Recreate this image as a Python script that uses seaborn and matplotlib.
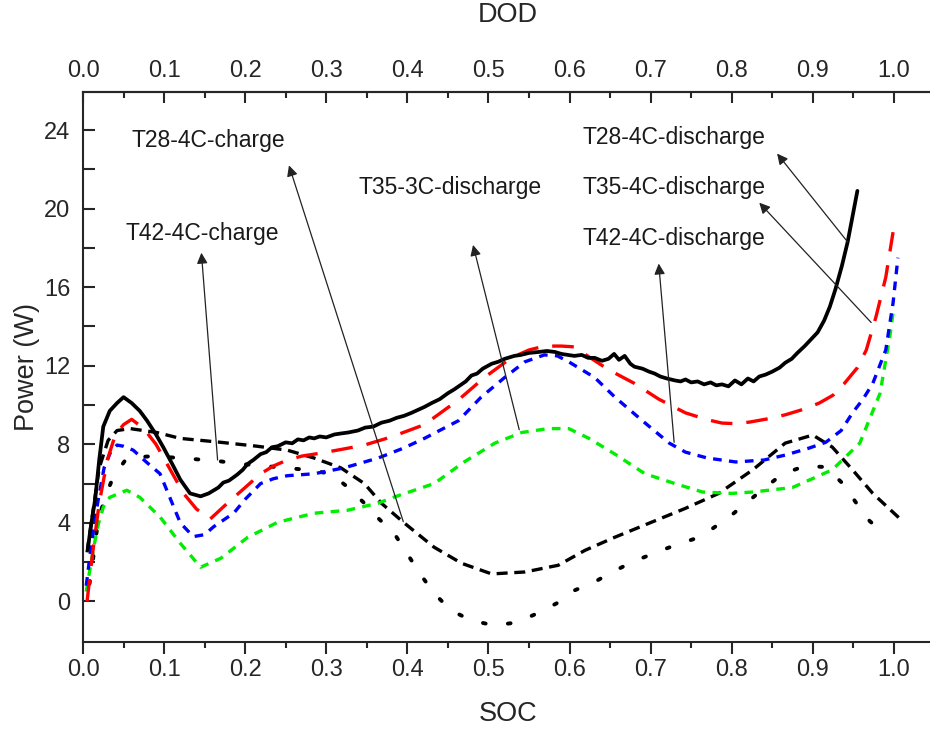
import matplotlib
matplotlib.use("Agg")
import matplotlib.pyplot as plt
import seaborn as sns
import pandas as pd
from matplotlib.ticker import FixedLocator, FormatStrFormatter

# ---------------- data ----------------
t28_dis_x = [0.006, 0.010, 0.015, 0.020, 0.025, 0.033, 0.042, 0.050, 0.060, 0.070, 0.079, 0.090, 0.099, 0.110,
             0.120, 0.132, 0.145, 0.155, 0.161, 0.167, 0.173, 0.180, 0.190, 0.197, 0.203, 0.210, 0.219, 0.226,
             0.233, 0.240, 0.250, 0.258, 0.265, 0.272, 0.279, 0.285, 0.292, 0.300, 0.310, 0.318, 0.327, 0.339,
             0.348, 0.358, 0.368, 0.378, 0.387, 0.396, 0.405, 0.413, 0.421, 0.430, 0.440, 0.450, 0.458, 0.465,
             0.472, 0.479, 0.486, 0.493, 0.504, 0.512, 0.520, 0.532, 0.540, 0.550, 0.562, 0.572, 0.582, 0.590,
             0.598, 0.606, 0.615, 0.623, 0.631, 0.640, 0.648, 0.655, 0.661, 0.668, 0.675, 0.680, 0.690, 0.698,
             0.705, 0.712, 0.720, 0.730, 0.737, 0.743, 0.750, 0.758, 0.766, 0.774, 0.781, 0.788, 0.796, 0.804,
             0.812, 0.820, 0.827, 0.834, 0.842, 0.850, 0.859, 0.866, 0.874, 0.881, 0.890, 0.898, 0.906, 0.914,
             0.921, 0.928, 0.936, 0.943, 0.949, 0.955]
t28_dis_y = [2.7, 3.9, 5.2, 7.2, 8.9, 9.7, 10.1, 10.4, 10.1, 9.7, 9.2, 8.5, 7.85, 7.0,
             6.2, 5.5, 5.35, 5.5, 5.65, 5.8, 6.05, 6.15, 6.45, 6.7, 7.0, 7.2, 7.5, 7.6,
             7.85, 7.9, 8.1, 8.05, 8.25, 8.2, 8.35, 8.3, 8.4, 8.35, 8.5, 8.55, 8.6, 8.7,
             8.85, 8.9, 9.1, 9.2, 9.35, 9.45, 9.6, 9.75, 9.9, 10.1, 10.3, 10.6, 10.8, 11.0,
             11.2, 11.5, 11.6, 11.85, 12.1, 12.2, 12.35, 12.5, 12.55, 12.65, 12.7, 12.75, 12.7, 12.6,
             12.55, 12.5, 12.55, 12.4, 12.4, 12.25, 12.35, 12.6, 12.3, 12.5, 12.1, 11.95, 11.85, 11.7,
             11.6, 11.45, 11.35, 11.25, 11.2, 11.3, 11.15, 11.2, 11.05, 11.15, 11.0, 11.05, 10.95, 11.25,
             11.05, 11.35, 11.2, 11.45, 11.55, 11.7, 11.9, 12.15, 12.35, 12.65, 13.0, 13.35, 13.7, 14.3,
             15.0, 15.9, 17.1, 18.3, 19.6, 20.9]

t35_dis_x = [0.005, 0.012, 0.020, 0.030, 0.040, 0.050, 0.060, 0.075, 0.090, 0.105, 0.124, 0.140, 0.157, 0.178,
             0.200, 0.219, 0.235, 0.252, 0.270, 0.293, 0.320, 0.347, 0.380, 0.421, 0.463, 0.495, 0.528, 0.550,
             0.569, 0.590, 0.606, 0.624, 0.648, 0.680, 0.710, 0.743, 0.770, 0.788, 0.805, 0.822, 0.845, 0.866,
             0.890, 0.908, 0.925, 0.939, 0.955, 0.966, 0.978, 0.990, 0.999]
t35_dis_y = [0.0, 2.5, 5.0, 7.2, 8.5, 9.0, 9.27, 8.8, 8.0, 6.9, 5.5, 4.7, 4.2, 5.0,
             5.8, 6.5, 6.9, 7.2, 7.4, 7.55, 7.75, 7.96, 8.37, 9.0, 10.26, 11.4, 12.4, 12.8,
             13.0, 13.0, 12.96, 12.45, 11.8, 11.1, 10.3, 9.6, 9.25, 9.08, 9.05, 9.13, 9.3, 9.5,
             9.8, 10.1, 10.5, 11.1, 11.9, 12.8, 14.5, 16.5, 18.8]

t42_dis_x = [0.004, 0.010, 0.018, 0.026, 0.034, 0.042, 0.050, 0.062, 0.078, 0.095, 0.108, 0.120, 0.136, 0.150,
             0.161, 0.186, 0.200, 0.219, 0.235, 0.252, 0.285, 0.322, 0.364, 0.395, 0.421, 0.463, 0.491, 0.520,
             0.545, 0.569, 0.585, 0.599, 0.631, 0.656, 0.689, 0.723, 0.743, 0.770, 0.805, 0.840, 0.866, 0.895,
             0.916, 0.935, 0.949, 0.962, 0.974, 0.990, 0.999, 1.005]
t42_dis_y = [0.8, 2.8, 5.0, 6.8, 7.6, 7.96, 7.9, 7.7, 7.1, 6.5, 5.2, 4.0, 3.3, 3.4,
             3.8, 4.5, 5.2, 6.0, 6.25, 6.4, 6.5, 6.8, 7.3, 7.8, 8.3, 9.2, 10.4, 11.4,
             12.2, 12.55, 12.5, 12.2, 11.4, 10.4, 9.23, 8.06, 7.6, 7.3, 7.1, 7.2, 7.45, 7.8,
             8.1, 8.7, 9.6, 10.3, 11.1, 12.8, 15.2, 17.5]

t35_3c_x = [0.004, 0.010, 0.018, 0.025, 0.033, 0.054, 0.070, 0.095, 0.120, 0.145, 0.170, 0.203, 0.240, 0.285,
            0.326, 0.364, 0.380, 0.433, 0.470, 0.508, 0.541, 0.574, 0.599, 0.624, 0.656, 0.693, 0.730, 0.764,
            0.800, 0.826, 0.875, 0.924, 0.958, 0.983, 0.995, 0.999]
t35_3c_y = [0.5, 2.0, 3.8, 4.8, 5.3, 5.66, 5.3, 4.3, 2.96, 1.74, 2.2, 3.26, 4.03, 4.49,
            4.64, 5.0, 5.26, 6.0, 7.1, 8.06, 8.6, 8.8, 8.8, 8.3, 7.5, 6.5, 6.0, 5.57,
            5.5, 5.57, 5.8, 6.7, 8.06, 10.6, 13.5, 14.7]

t28_ch_x = [0.005, 0.012, 0.020, 0.031, 0.042, 0.058, 0.091, 0.120, 0.170, 0.215, 0.252, 0.285, 0.318, 0.347,
            0.368, 0.396, 0.433, 0.467, 0.504, 0.545, 0.586, 0.619, 0.656, 0.698, 0.743, 0.784, 0.826, 0.866,
            0.900, 0.924, 0.949, 0.974, 1.007]
t28_ch_y = [2.5, 4.5, 6.8, 8.2, 8.7, 8.8, 8.6, 8.3, 8.1, 7.9, 7.7, 7.3, 6.8, 6.0,
            5.0, 4.0, 2.76, 1.94, 1.4, 1.5, 1.84, 2.6, 3.27, 3.98, 4.74, 5.5, 6.7, 8.06,
            8.47, 7.86, 6.7, 5.5, 4.23]

t42_ch_x = [0.008, 0.012, 0.015, 0.020, 0.028, 0.037, 0.054, 0.087, 0.139, 0.166, 0.194, 0.223, 0.248, 0.277,
            0.306, 0.327, 0.347, 0.365, 0.384, 0.401, 0.417, 0.433, 0.454, 0.479, 0.507, 0.535, 0.560, 0.584,
            0.606, 0.630, 0.652, 0.677, 0.704, 0.730, 0.755, 0.776, 0.797, 0.819, 0.840, 0.863, 0.891, 0.916,
            0.937, 0.953, 0.970, 0.990]
t42_ch_y = [0.9, 2.0, 3.1, 4.3, 5.4, 6.3, 7.3, 7.4, 7.24, 7.15, 7.0, 6.9, 6.8, 6.7,
            6.5, 5.8, 5.0, 4.2, 3.45, 2.35, 1.33, 0.41, -0.46, -0.97, -1.22, -1.07, -0.61, -0.1,
            0.56, 0.97, 1.48, 2.0, 2.45, 2.86, 3.2, 3.7, 4.3, 5.05, 5.76, 6.5, 6.9, 6.84,
            6.0, 5.05, 4.1, 3.36]

# tick labels
soc_ticks = [0.0, 0.1, 0.2, 0.3, 0.4, 0.5, 0.6, 0.7, 0.8, 0.9, 1.0]
dod_ticks = [0.0, 0.1, 0.2, 0.3, 0.4, 0.5, 0.6, 0.7, 0.8, 0.9, 1.0]
power_ticks = [0, 4, 8, 12, 16, 20, 24]

# annotation labels: text, text position, arrow head, arrow tail on curve
ann_labels = ["T28-4C-charge", "T42-4C-charge", "T35-3C-discharge",
              "T28-4C-discharge", "T35-4C-discharge", "T42-4C-discharge"]
ann_text_xy = [(0.155, 23.45), (0.147, 18.75), (0.453, 21.05),
               (0.729, 23.6), (0.729, 21.05), (0.729, 18.5)]
ann_head_xy = [(0.254, 22.2), (0.146, 17.75), (0.481, 18.15),
               (0.856, 22.8), (0.834, 20.3), (0.710, 17.2)]
ann_tail_xy = [(0.395, 4.06), (0.166, 7.2), (0.538, 8.74),
               (0.943, 18.3), (0.972, 14.2), (0.729, 8.1)]

# ---------------- style ----------------
sns.set_style("ticks")
plt.rcParams['font.family'] = ['Liberation Sans', 'DejaVu Sans']
plt.rcParams['axes.linewidth'] = 1.5

fig = plt.figure(figsize=(9.3, 7.29), dpi=100)
ax = fig.add_axes([83 / 930, 1 - 641.7 / 729, 1 - 83 / 930 + 0.003, (641.7 - 91.7) / 729])

series = [
    (t28_ch_x, t28_ch_y, dict(color="black", lw=2.4, linestyle=(0, (3.3, 2.0)))),
    (t42_ch_x, t42_ch_y, dict(color="black", lw=2.8, linestyle=(0, (0.7, 5.8)), dash_capstyle="round")),
    (t35_3c_x, t35_3c_y, dict(color="#00ee00", lw=2.4, linestyle=(0, (2.6, 2.2)))),
    (t42_dis_x, t42_dis_y, dict(color="#0000ff", lw=2.4, linestyle=(0, (2.6, 2.2)))),
    (t35_dis_x, t35_dis_y, dict(color="#ff0000", lw=2.4, linestyle=(0, (6.5, 4.2)))),
    (t28_dis_x, t28_dis_y, dict(color="black", lw=2.7, linestyle="-")),
]
for xs, ys, kw in series:
    df = pd.DataFrame({"SOC": xs, "Power": ys})
    sns.lineplot(data=df, x="SOC", y="Power", ax=ax, sort=False, estimator=None, **kw)

for lab, txy, hxy, sxy in zip(ann_labels, ann_text_xy, ann_head_xy, ann_tail_xy):
    ax.annotate("", xy=hxy, xytext=sxy,
                arrowprops=dict(arrowstyle="-|>", color="#222222", lw=0.9,
                                mutation_scale=16, shrinkA=0, shrinkB=0))
    ax.text(txy[0], txy[1], lab, ha="center", va="center", fontsize=16.5, color="#1a1a1a")

ax.set_xlim(0, 1.048)
ax.set_ylim(-2.05, 25.95)
ax.xaxis.set_major_locator(FixedLocator(soc_ticks))
ax.xaxis.set_minor_locator(FixedLocator([t + 0.05 for t in soc_ticks]))
ax.yaxis.set_major_locator(FixedLocator(power_ticks))
ax.yaxis.set_minor_locator(FixedLocator([t + 2 for t in power_ticks[:-1]]))
ax.xaxis.set_major_formatter(FormatStrFormatter("%.1f"))

ax.tick_params(axis="x", which="major", direction="out", length=8.5, width=1.5, labelsize=17, pad=4)
ax.tick_params(axis="x", which="minor", direction="out", length=4, width=1.5)
ax.tick_params(axis="y", which="both", direction="in", length=8.5, width=1.5, labelsize=17, pad=9)

ax.spines["right"].set_visible(False)
ax.set_xlabel("SOC", fontsize=19.5, labelpad=14)
ax.set_ylabel("Power (W)", fontsize=19.5, labelpad=3)

top = ax.twiny()
top.set_xlim(ax.get_xlim())
top.xaxis.set_major_locator(FixedLocator(dod_ticks))
top.xaxis.set_minor_locator(FixedLocator([t + 0.05 for t in dod_ticks]))
top.xaxis.set_major_formatter(FormatStrFormatter("%.1f"))
top.tick_params(axis="x", which="major", direction="in", length=8, width=1.5, labelsize=17, pad=7)
top.tick_params(axis="x", which="minor", direction="in", length=4, width=1.5)
for s in ["right", "left", "bottom"]:
    top.spines[s].set_visible(False)
top.spines["top"].set_linewidth(1.5)
top.set_xlabel("DOD", fontsize=19.5, labelpad=27)

fig.savefig("out.png", dpi=100)
